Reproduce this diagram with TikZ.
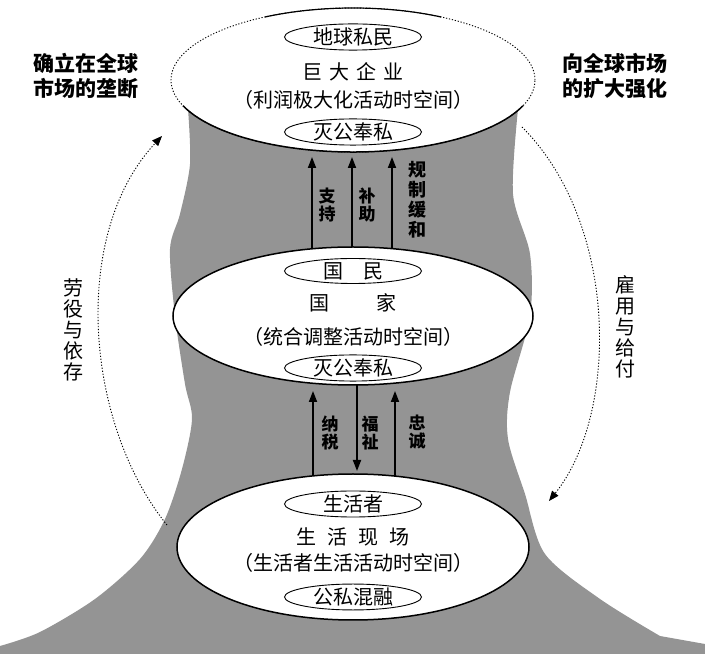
\documentclass[tikz,border=0pt]{standalone}
\usepackage{fontspec}
\setmainfont{Noto Sans CJK SC}
\usetikzlibrary{shapes.geometric,arrows.meta}
\begin{document}
\begin{tikzpicture}[x=1pt,y=1pt,
  big/.style={ellipse, fill=white, inner sep=0},
  tag/.style={ellipse, draw, line width=0.9pt, fill=white, minimum width=137pt, minimum height=25pt, inner sep=0, font=\fontsize{20}{22}\selectfont},
  txt/.style={font=\fontsize{20}{22}\selectfont, inner sep=0},
  flow/.style={line width=1.8pt, -{Triangle[length=11pt,width=8pt]}},
  vlab/.style={font=\fontsize{17}{18}\selectfont\bfseries, align=center, inner sep=0},
  side/.style={font=\fontsize{21}{25}\selectfont\bfseries, align=center, inner sep=0},
  vside/.style={font=\fontsize{20}{21}\selectfont, align=center, inner sep=0},
  cyc/.style={line width=0.9pt, dash pattern=on 1.2pt off 1.8pt, -{Triangle[length=10pt,width=8pt]}},
  dotline/.style={line width=0.9pt, dash pattern=on 1.2pt off 1.8pt}
]
\useasboundingbox (0,0) rectangle (705,654);

% shaded column
\fill[black!42] plot[smooth] coordinates {(188,545) (190,490) (180,440) (170,405) (175,338) (185,270) (192,235) (182,185) (165,135) (140,95) (95,55) (40,22) (0,8)}
  -- (0,0) -- (705,0) -- (705,10)
  -- plot[smooth] coordinates {(660,18) (600,55) (545,100) (525,160) (508,215) (510,262) (530,338) (530,400) (513,460) (518,545)}
  -- cycle;

% flow arrows
\coordinate (u1a) at (312,396); \coordinate (u1b) at (312,497);
\coordinate (u2a) at (352,396); \coordinate (u2b) at (352,497);
\coordinate (u3a) at (392,396); \coordinate (u3b) at (392,497);
\coordinate (d1a) at (313,170); \coordinate (d1b) at (313,263);
\coordinate (d2a) at (357,278); \coordinate (d2b) at (357,183);
\coordinate (d3a) at (395,170); \coordinate (d3b) at (395,263);
\draw[flow] (u1a) -- (u1b);
\draw[flow] (u2a) -- (u2b);
\draw[flow] (u3a) -- (u3b);
\draw[flow] (d1a) -- (d1b);
\draw[flow] (d2a) -- (d2b);
\draw[flow] (d3a) -- (d3b);

% big ellipses
\node[big, minimum width=364pt, minimum height=144pt] (top) at (353,574) {};
\draw[dotline] (top.center) ellipse [x radius=182, y radius=72];
\draw[line width=1.5pt] ([shift={(201:182 and 72)}]top.center) arc[start angle=201, end angle=339, x radius=182, y radius=72];
\draw[line width=1.2pt] ([shift={(61:182 and 72)}]top.center) arc[start angle=61, end angle=119, x radius=182, y radius=72];
\node[big, draw, line width=1.5pt, minimum width=360pt, minimum height=138pt] (mid) at (353,338) {};
\node[big, draw, line width=1.5pt, minimum width=352pt, minimum height=146pt] (bot) at (353,107) {};

% texts in top
\node[tag] (t1) at (353,617) {地球私民};
\node[txt] (t2) at (353,582) {巨\hspace{7pt}大\hspace{7pt}企\hspace{7pt}业};
\node[txt] (t3) at (353,554) {（利润极大化活动时空间）};
\node[tag] (t4) at (353,522) {灭公奉私};
% texts in middle
\node[tag] (m1) at (353,383) {国\hspace{20pt}民};
\node[txt] (m2) at (353,351) {国\hspace{47pt}家};
\node[txt] (m3) at (353,317) {（统合调整活动时空间）};
\node[tag] (m4) at (353,286) {灭公奉私};
% texts in bottom
\node[tag] (b1) at (353,150) {生活者};
\node[txt] (b2) at (353,117) {生\hspace{11pt}活\hspace{11pt}现\hspace{11pt}场};
\node[txt] (b3) at (353,91) {（生活者生活活动时空间）};
\node[tag] (b4) at (353,57) {公私混融};

% arrow labels
\node[vlab] (l1) at (327,449) {支\\持};
\node[vlab] (l2) at (367,449) {补\\助};
\node[vlab, font=\fontsize{18}{20}\selectfont\bfseries] (l3) at (417,454) {规\\制\\缓\\和};
\node[vlab] (l4) at (330,221) {纳\\税};
\node[vlab] (l5) at (370,221) {福\\祉};
\node[vlab] (l6) at (417,222) {忠\\诚};

% side texts
\node[side] (s1) at (86,578) {确立在全球\\市场的垄断};
\node[side] (s2) at (615,578) {向全球市场\\的扩大强化};
\node[vside] (s3) at (73,324) {劳\\役\\与\\依\\存};
\node[vside] (s4) at (625,327) {雇\\用\\与\\给\\付};

% cycle arcs
\coordinate (c1s) at (167,129); \coordinate (c1e) at (162,518);
\draw[cyc] (c1s) .. controls (85,230) and (70,420) .. (c1e);
\coordinate (c2s) at (522,527); \coordinate (c2e) at (549,153);
\draw[cyc] (c2s) .. controls (619,430) and (619,240) .. (c2e);
\end{tikzpicture}
\end{document}
